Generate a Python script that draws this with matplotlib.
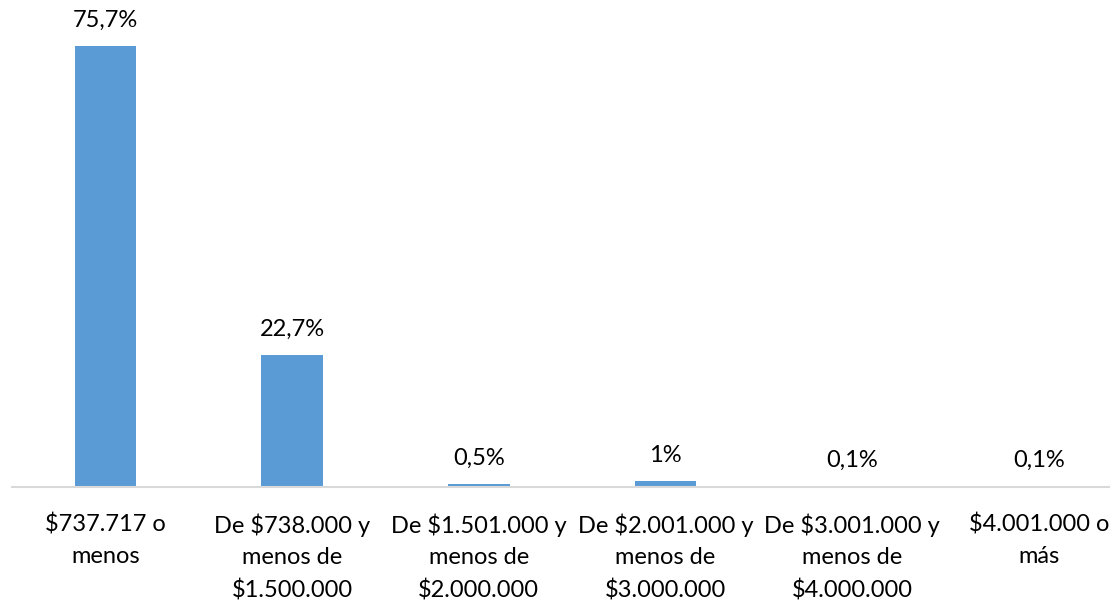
import matplotlib
matplotlib.use('Agg')
import matplotlib.pyplot as plt

categorias = ["$737.717 o\nmenos",
              "De $738.000 y\nmenos de\n$1.500.000",
              "De $1.501.000 y\nmenos de\n$2.000.000",
              "De $2.001.000 y\nmenos de\n$3.000.000",
              "De $3.001.000 y\nmenos de\n$4.000.000",
              "$4.001.000 o\nmás"]
valores = [75.7, 22.7, 0.5, 1.0, 0.1, 0.1]
etiquetas = ["75,7%", "22,7%", "0,5%", "1%", "0,1%", "0,1%"]

plt.rcParams['font.family'] = ['Lato', 'DejaVu Sans']

fig = plt.figure(figsize=(11.1, 6.0), dpi=100)
ax = fig.add_axes([12/1110, 113/600, 1098/1110, 466/600])

x = range(len(valores))
ax.bar(x, valores, width=0.33, color="#5B9BD5")
ax.set_xlim(-0.5, -0.5 + 1098/186.7)
ax.set_ylim(0, 80)

for i, (v, t) in enumerate(zip(valores, etiquetas)):
    ax.annotate(t, (i, v), xytext=(0, 11), textcoords="offset points",
                ha="center", va="bottom", fontsize=17, color="black")

ax.set_xticks(list(x))
ax.set_xticklabels(categorias, fontsize=17, linespacing=1.62)
ax.tick_params(axis="x", length=0, pad=19)
ax.set_yticks([])
for s in ["top", "right", "left"]:
    ax.spines[s].set_visible(False)
ax.spines["bottom"].set_color("#D9D9D9")
ax.spines["bottom"].set_linewidth(1.5)

fig.savefig("out.png", dpi=100)
